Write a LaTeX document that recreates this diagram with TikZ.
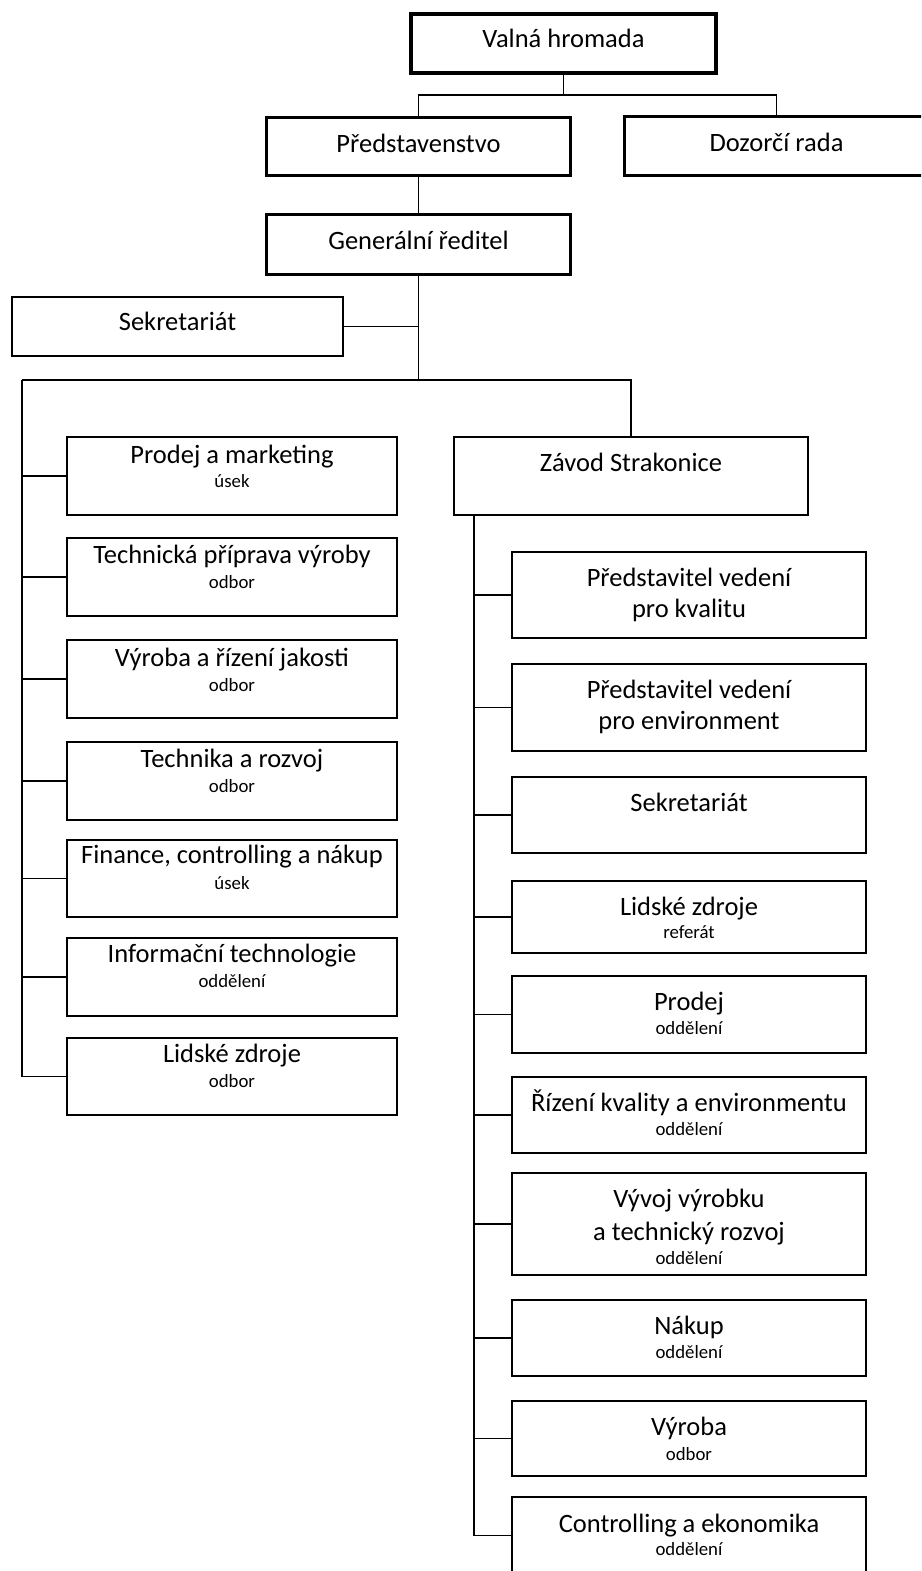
\documentclass[tikz,border=0pt]{standalone}
\usepackage{fontspec}
\setmainfont{Carlito}
\begin{document}
\begin{tikzpicture}[x=1pt,y=-1pt,
  conn/.style={line width=1.9pt},
  orgbox/.style={draw, rectangle, inner sep=0pt, line width=2pt},
  midbox/.style={orgbox, line width=3pt},
  heavybox/.style={orgbox, line width=4.3pt},
  maintxt/.style={inner sep=0pt, anchor=base, font=\fontsize{26.5}{31}\selectfont},
  subtxt/.style={inner sep=0pt, anchor=base, font=\fontsize{18.8}{22}\selectfont}]
\clip (0,0) rectangle (921,1571);

% --- top management ---
\node[heavybox, minimum width=305, minimum height=59] (valna) at (563.5,43.5) {};
\node[maintxt] (valna-t) at (563.5,48) {Valná hromada};
\node[midbox, minimum width=304, minimum height=58] (pred) at (418.5,146.5) {};
\node[maintxt] (pred-t) at (418.5,152) {Představenstvo};
\node[midbox, minimum width=304, minimum height=59] (dozor) at (776.5,146) {};
\node[maintxt] (dozor-t) at (776.5,151) {Dozorčí rada};
\node[midbox, minimum width=304, minimum height=60] (gen) at (418.5,244.5) {};
\node[maintxt] (gen-t) at (418.5,249) {Generální ředitel};
\node[orgbox, minimum width=331, minimum height=59] (sek) at (177.5,326.5) {};
\node[maintxt] (sek-t) at (177.5,330) {Sekretariát};
\node[orgbox, line width=2.2pt, minimum width=354, minimum height=78] (zavod) at (631,476) {};
\node[maintxt] (zavod-t) at (631,471) {Závod Strakonice};

% --- departments under the general director ---
\node[orgbox, minimum width=330, minimum height=78] (pm) at (232,476) {};
\node[maintxt] (pm-t) at (232,463) {Prodej a marketing};
\node[subtxt] (pm-s) at (232,487) {úsek};
\node[orgbox, minimum width=330, minimum height=78] (tpv) at (232,577) {};
\node[maintxt] (tpv-t) at (232,563) {Technická příprava výroby};
\node[subtxt] (tpv-s) at (232,588) {odbor};
\node[orgbox, minimum width=330, minimum height=78] (vrj) at (232,679) {};
\node[maintxt] (vrj-t) at (232,666) {Výroba a řízení jakosti};
\node[subtxt] (vrj-s) at (232,691) {odbor};
\node[orgbox, minimum width=330, minimum height=78] (tr) at (232,781) {};
\node[maintxt] (tr-t) at (232,767) {Technika a rozvoj};
\node[subtxt] (tr-s) at (232,792) {odbor};
\node[orgbox, minimum width=330, minimum height=77] (fin) at (232,878.5) {};
\node[maintxt] (fin-t) at (232,863) {Finance, controlling a nákup};
\node[subtxt] (fin-s) at (232,889) {úsek};
\node[orgbox, minimum width=330, minimum height=78] (it) at (232,977) {};
\node[maintxt] (it-t) at (232,962) {Informační technologie};
\node[subtxt] (it-s) at (232,987) {oddělení};
\node[orgbox, minimum width=330, minimum height=77] (lz) at (232,1076.5) {};
\node[maintxt] (lz-t) at (232,1062) {Lidské zdroje};
\node[subtxt] (lz-s) at (232,1087) {odbor};

% --- units of the Strakonice plant ---
\node[orgbox, minimum width=354, minimum height=86] (kval) at (689,595) {};
\node[maintxt] (kval-t) at (689,586) {Představitel vedení};
\node[maintxt] (kval-u) at (689,617.5) {pro kvalitu};
\node[orgbox, minimum width=354, minimum height=87] (env) at (689,707.5) {};
\node[maintxt] (env-t) at (689,698) {Představitel vedení};
\node[maintxt] (env-u) at (689,729.5) {pro environment};
\node[orgbox, minimum width=354, minimum height=76] (sek2) at (689,815) {};
\node[maintxt] (sek2-t) at (689,811) {Sekretariát};
\node[orgbox, minimum width=354, minimum height=72] (lz2) at (689,917) {};
\node[maintxt] (lz2-t) at (689,915) {Lidské zdroje};
\node[subtxt] (lz2-s) at (689,938) {referát};
\node[orgbox, minimum width=354, minimum height=77] (prod) at (689,1014.5) {};
\node[maintxt] (prod-t) at (689,1010) {Prodej};
\node[subtxt] (prod-s) at (689,1034) {oddělení};
\node[orgbox, minimum width=354, minimum height=76] (rk) at (689,1115) {};
\node[maintxt] (rk-t) at (689,1111) {Řízení kvality a environmentu};
\node[subtxt] (rk-s) at (689,1135) {oddělení};
\node[orgbox, minimum width=354, minimum height=102] (vyv) at (689,1224) {};
\node[maintxt] (vyv-t) at (689,1207) {Vývoj výrobku};
\node[maintxt] (vyv-u) at (689,1240) {a technický rozvoj};
\node[subtxt] (vyv-s) at (689,1264) {oddělení};
\node[orgbox, minimum width=354, minimum height=76] (nak) at (689,1338) {};
\node[maintxt] (nak-t) at (689,1334) {Nákup};
\node[subtxt] (nak-s) at (689,1358) {oddělení};
\node[orgbox, minimum width=354, minimum height=75] (vyr) at (689,1438.5) {};
\node[maintxt] (vyr-t) at (689,1435) {Výroba};
\node[subtxt] (vyr-s) at (689,1460) {odbor};
\node[orgbox, minimum width=354, minimum height=77] (ctrl) at (689,1535.5) {};
\node[maintxt] (ctrl-t) at (689,1532) {Controlling a ekonomika};
\node[subtxt] (ctrl-s) at (689,1555) {oddělení};

% --- connectors ---
\coordinate (tb) at (563.5,95);
\coordinate (mb) at (418.5,380);
\coordinate (lb) at (22,380);
\coordinate (rb) at (631,380);
\coordinate (rs) at (474,516);

\draw[conn] (valna.south) -- (tb);
\draw[conn] (pred.north) |- (tb) -| (dozor.north);
\draw[conn] (pred.south) -- (gen.north);
\draw[conn] (gen.south) -- (mb);
\draw[conn] (sek.east) -- (sek.east -| mb);
\draw[conn] (lb) -- (rb) -- (zavod.north);

\draw[conn] (lb) |- (lz.west);
\foreach \b in {pm,tpv,vrj,tr,fin,it}
  \draw[conn] (lb |- \b.west) -- (\b.west);

\draw[conn] (rs) |- (ctrl.west);
\foreach \b in {kval,env,sek2,lz2,prod,rk,vyv,nak,vyr}
  \draw[conn] (rs |- \b.west) -- (\b.west);
\end{tikzpicture}
\end{document}
